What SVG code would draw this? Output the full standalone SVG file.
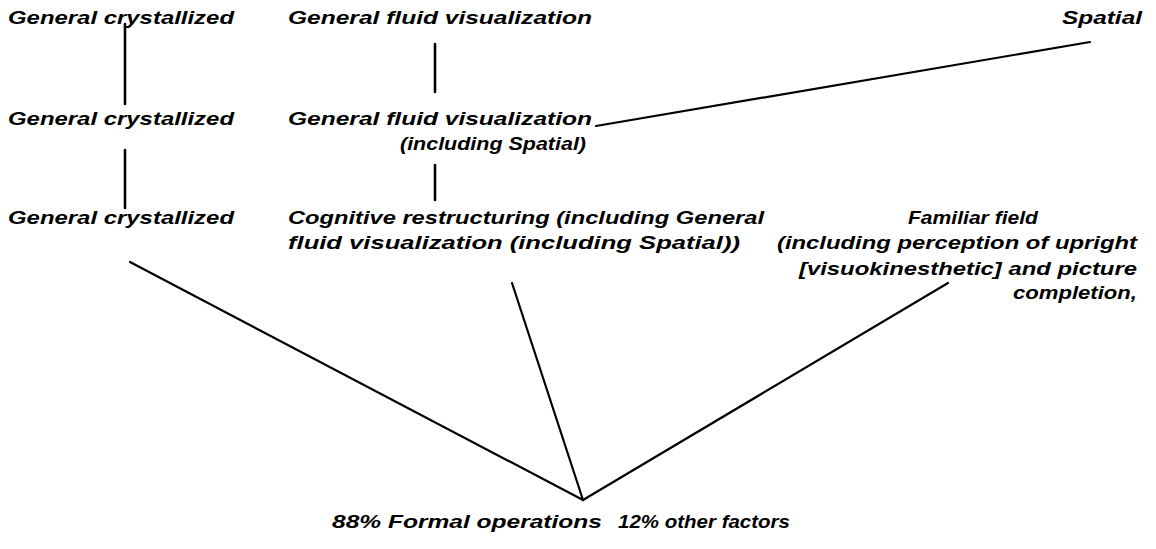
<svg xmlns="http://www.w3.org/2000/svg" width="1156" height="549" viewBox="0 0 1156 549">
<style>
text{font-family:"Liberation Sans","Arial",sans-serif;font-weight:bold;font-style:italic;font-size:18px;fill:#000}
.c line{stroke:#000;stroke-linecap:round}
.v{stroke-width:2.6}
.s{stroke-width:2.2}
</style>
<rect width="1156" height="549" fill="#fff"/>
<g class="c" id="connectors">
<line class="v" x1="125" y1="24" x2="125" y2="104"/>
<line class="v" x1="125" y1="150" x2="125" y2="208"/>
<line class="v" x1="435" y1="44" x2="435" y2="92"/>
<line class="v" x1="435" y1="165" x2="435" y2="200"/>
<line class="s" x1="596" y1="126" x2="1090" y2="42"/>
<line class="s" x1="130" y1="262" x2="583" y2="500"/>
<line class="s" x1="512" y1="283" x2="583" y2="500"/>
<line class="s" x1="948" y1="283" x2="583" y2="500"/>
</g>
<g id="n1"><text x="8" y="24" textLength="226" lengthAdjust="spacingAndGlyphs">General crystallized</text></g>
<g id="n2"><text x="288" y="24" textLength="304" lengthAdjust="spacingAndGlyphs">General fluid visualization</text></g>
<g id="n3"><text x="1062" y="24" textLength="80" lengthAdjust="spacingAndGlyphs">Spatial</text></g>
<g id="n4"><text x="8" y="125" textLength="226" lengthAdjust="spacingAndGlyphs">General crystallized</text></g>
<g id="n5"><text x="288" y="125" textLength="304" lengthAdjust="spacingAndGlyphs">General fluid visualization</text><text x="400" y="150" textLength="186" lengthAdjust="spacingAndGlyphs">(including Spatial)</text></g>
<g id="n6"><text x="8" y="224" textLength="226" lengthAdjust="spacingAndGlyphs">General crystallized</text></g>
<g id="n7"><text x="288" y="224" textLength="476" lengthAdjust="spacingAndGlyphs">Cognitive restructuring (including General</text><text x="288" y="249" textLength="452" lengthAdjust="spacingAndGlyphs">fluid visualization (including Spatial))</text></g>
<g id="n8"><text x="908" y="224" textLength="130" lengthAdjust="spacingAndGlyphs">Familiar field</text><text x="777" y="249" textLength="360" lengthAdjust="spacingAndGlyphs">(including perception of upright</text><text x="799" y="275" textLength="338" lengthAdjust="spacingAndGlyphs">[visuokinesthetic] and picture</text><text x="1013" y="299" textLength="124" lengthAdjust="spacingAndGlyphs">completion,</text></g>
<g id="n9"><text x="332" y="528" textLength="270" lengthAdjust="spacingAndGlyphs">88% Formal operations</text><text x="618" y="528" textLength="172" lengthAdjust="spacingAndGlyphs">12% other factors</text></g>
</svg>
